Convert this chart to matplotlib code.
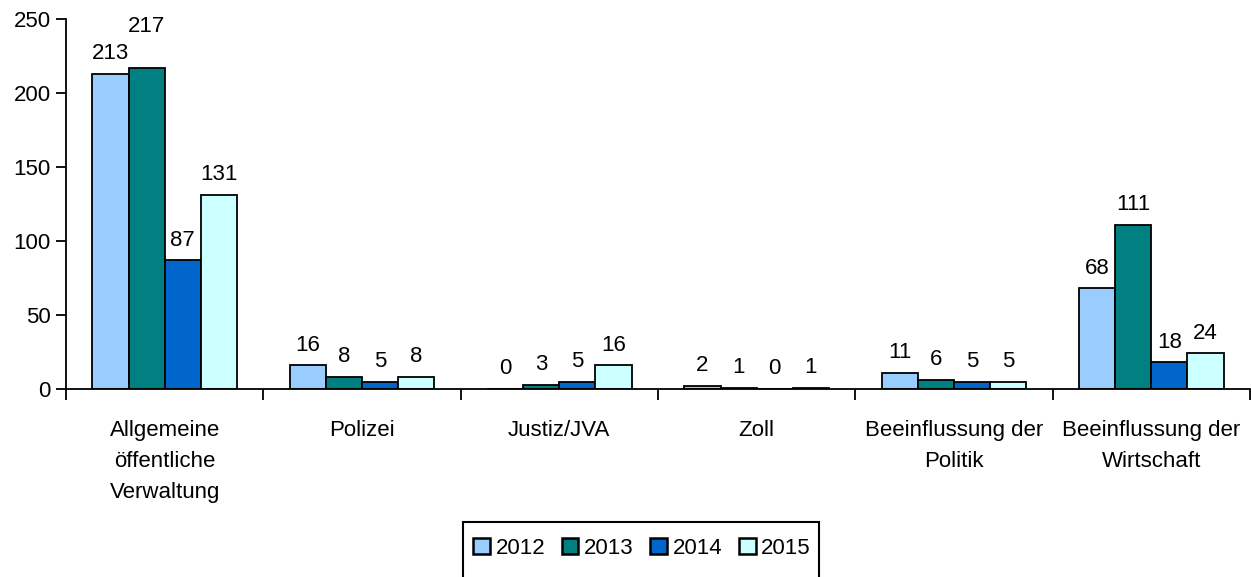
import matplotlib
matplotlib.use("Agg")
import matplotlib.pyplot as plt
from matplotlib.patches import Rectangle
import numpy as np

plt.rcParams['font.family'] = ['Liberation Sans', 'DejaVu Sans']

categories = ["Allgemeine\nöffentliche\nVerwaltung", "Polizei", "Justiz/JVA", "Zoll",
              "Beeinflussung der\nPolitik", "Beeinflussung der\nWirtschaft"]
years = ["2012", "2013", "2014", "2015"]
v2012 = [213, 16, 0, 2, 11, 68]
v2013 = [217, 8, 3, 1, 6, 111]
v2014 = [87, 5, 5, 0, 5, 18]
v2015 = [131, 8, 16, 1, 5, 24]
series = [v2012, v2013, v2014, v2015]
colors = ["#99CCFF", "#008080", "#0066CC", "#CCFFFF"]

W, H = 1251, 577
fig = plt.figure(figsize=(W/100, H/100), dpi=100)
ax = fig.add_axes([66/W, 1-389/H, (1250-66)/W, 370/H])

x = np.arange(len(categories))
w = 0.183
FS = 16
for i, (vals, c, yr) in enumerate(zip(series, colors, years)):
    pos = x + (i - 1.5) * w
    ax.bar(pos, vals, w, color=c, edgecolor="black", linewidth=1.3, label=yr)
    for j, (p, v) in enumerate(zip(pos, vals)):
        off = 7
        if i == 1 and j == 0:
            off = 22
        ax.annotate(str(v), (p, v), xytext=(0, off), textcoords="offset points",
                    ha="center", va="bottom", fontsize=FS)

ax.set_xlim(-0.5, len(categories) - 0.5)
ax.set_ylim(0, 250)
ax.set_yticks([0, 50, 100, 150, 200, 250])
ax.tick_params(axis='y', labelsize=FS, length=7, width=1.3, direction='out', pad=4)
ax.set_xticks(np.arange(len(categories) + 1) - 0.5)
ax.set_xticklabels([])
ax.set_xticks(x, minor=True)
ax.set_xticklabels(categories, minor=True, fontsize=FS, linespacing=1.65)
ax.tick_params(axis='x', which='major', length=8, width=1.3, direction='out')
ax.tick_params(axis='x', which='minor', length=0, pad=22)
for s in ['top', 'right']:
    ax.spines[s].set_visible(False)
ax.spines['left'].set_linewidth(1.3)
ax.spines['bottom'].set_linewidth(1.3)

leg = fig.legend(loc='center', bbox_to_anchor=(642/W, 1-548/H), ncol=4, fontsize=FS,
                 frameon=False, handlelength=0.75, handleheight=0.75,
                 handletextpad=0.25, columnspacing=0.75, borderpad=0.0)
for h in leg.legend_handles:
    h.set_linewidth(1.8)

fig.canvas.draw()
bb = leg.get_window_extent()
x0 = (bb.x0 - 10) / W
x1 = (bb.x1 + 8) / W
y_top = 1 - 522/H
rect = Rectangle((x0, -0.02), x1 - x0, y_top + 0.02, transform=fig.transFigure,
                 fill=False, edgecolor='black', linewidth=1.5, zorder=0)
fig.add_artist(rect)

fig.savefig("out.png", dpi=100)
